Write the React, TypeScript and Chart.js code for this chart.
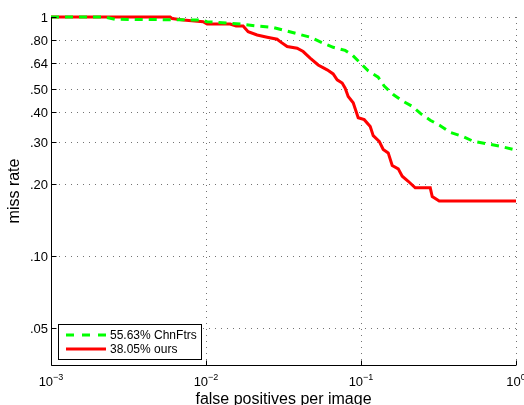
import React, { useEffect, useRef } from "react";
import { Chart, registerables } from "chart.js";

Chart.register(...registerables);

// Miss rate versus false positives per image (FPPI) for the two detectors.
const fppiOurs = [
  0.001, 0.00587, 0.00604, 0.00712, 0.00958, 0.01016, 0.01431, 0.01564, 0.01736,
  0.0187, 0.02137, 0.0248, 0.02877, 0.03009, 0.03339, 0.03873, 0.04234, 0.04699,
  0.05293, 0.06049, 0.06613, 0.07018, 0.0756, 0.07907, 0.08268, 0.08906, 0.09592,
  0.1049, 0.1147, 0.1199, 0.1311, 0.1391, 0.1498, 0.159, 0.1739, 0.1845, 0.2017,
  0.2238, 0.2797, 0.2881, 0.3197, 1.0,
];
const missOurs = [
  1.0, 1.0, 0.986, 0.972, 0.956, 0.935, 0.935, 0.917, 0.917,
  0.868, 0.841, 0.823, 0.807, 0.789, 0.752, 0.74, 0.717, 0.673,
  0.63, 0.601, 0.578, 0.546, 0.529, 0.504, 0.465, 0.438, 0.379,
  0.372, 0.348, 0.319, 0.302, 0.279, 0.27, 0.239, 0.2315, 0.2157, 0.2055,
  0.1929, 0.1929, 0.1774, 0.1697, 0.1697,
];

const fppiChnFtrs = [
  0.001, 0.00223, 0.00259, 0.00916, 0.01016, 0.01736, 0.02137, 0.02671, 0.03241,
  0.03931, 0.04699, 0.05617, 0.06613, 0.07907, 0.08774, 0.09881, 0.1113, 0.1291,
  0.1412, 0.1614, 0.1845, 0.2141, 0.2428, 0.2797, 0.3246, 0.3766, 0.4499, 0.5301,
  0.6478, 0.7918, 0.9607, 1.0,
];
const missChnFtrs = [
  1.0, 1.0, 0.978, 0.972, 0.956, 0.932, 0.917, 0.906, 0.877,
  0.849, 0.823, 0.781, 0.747, 0.725, 0.694, 0.643, 0.595, 0.56,
  0.514, 0.474, 0.446, 0.423, 0.394, 0.37, 0.351, 0.329, 0.317, 0.302,
  0.295, 0.288, 0.279, 0.275,
];

const seriesLabels = ["55.63% ChnFtrs", "38.05% ours"];
const seriesColors = ["#00ff00", "#ff0000"];

const yTicks = [0.05, 0.1, 0.2, 0.3, 0.4, 0.5, 0.64, 0.8, 1];
const yTickLabels = [".05", ".10", ".20", ".30", ".40", ".50", ".64", ".80", "1"];
const xTicks = [0.001, 0.01, 0.1, 1];
const xTickExponents = ["\u22123", "\u22122", "\u22121", "0"];

const FONT = '"Liberation Sans", Arial, Helvetica, sans-serif';

// Dotted grid drawn dot by dot so every dot lands on a whole pixel.
function dottedH(ctx: CanvasRenderingContext2D, x0: number, x1: number, y: number) {
  for (let x = Math.ceil(x0) + 2; x <= x1; x += 6) ctx.fillRect(x, y, 1, 1);
}
function dottedV(ctx: CanvasRenderingContext2D, x: number, y0: number, y1: number) {
  for (let y = Math.ceil(y0); y <= y1 - 2; y += 6) ctx.fillRect(x, y, 1, 1);
}

// Draws MATLAB-style axes: dotted grid, left/bottom axis lines with inward
// ticks, power-of-ten labels, axis titles and a boxed legend.
const matlabAxes = {
  id: "matlabAxes",
  beforeDatasetsDraw(chart: any) {
    const { ctx, chartArea: a, scales } = chart;
    const xs = scales.x;
    const ys = scales.y;
    ctx.save();
    ctx.fillStyle = "rgba(0,0,0,0.55)";
    for (const v of yTicks) {
      const py = Math.round(ys.getPixelForValue(v));
      dottedH(ctx, a.left, a.right, py);
    }
    for (const v of xTicks) {
      if (v === xTicks[0]) continue;
      const px = Math.round(xs.getPixelForValue(v));
      dottedV(ctx, px, a.top, a.bottom);
    }
    ctx.restore();
  },
  afterDatasetsDraw(chart: any) {
    const { ctx, chartArea: a, scales } = chart;
    const xs = scales.x;
    const ys = scales.y;
    const left = Math.round(a.left) + 0.5;
    const bottom = Math.round(a.bottom) + 0.5;
    ctx.save();
    ctx.setLineDash([]);
    ctx.strokeStyle = "#000";
    ctx.lineWidth = 1;
    // axis lines
    ctx.beginPath();
    ctx.moveTo(left, a.top);
    ctx.lineTo(left, bottom);
    ctx.lineTo(a.right, bottom);
    ctx.stroke();
    // inward ticks
    ctx.beginPath();
    for (const v of yTicks) {
      const py = Math.round(ys.getPixelForValue(v)) + 0.5;
      ctx.moveTo(left, py);
      ctx.lineTo(left + 5, py);
    }
    for (const v of xTicks) {
      const px = Math.round(xs.getPixelForValue(v)) + 0.5;
      ctx.moveTo(px, bottom);
      ctx.lineTo(px, bottom - 5);
    }
    ctx.stroke();

    // y tick labels
    ctx.fillStyle = "#000";
    ctx.font = `13px ${FONT}`;
    ctx.textAlign = "right";
    ctx.textBaseline = "middle";
    yTicks.forEach((v, i) => {
      ctx.fillText(yTickLabels[i], a.left - 3, ys.getPixelForValue(v) + 1);
    });

    // x tick labels as 10^n
    ctx.textAlign = "left";
    ctx.textBaseline = "alphabetic";
    xTicks.forEach((v, i) => {
      ctx.font = `13px ${FONT}`;
      const wBase = ctx.measureText("10").width;
      ctx.font = `9px ${FONT}`;
      const wExp = ctx.measureText(xTickExponents[i]).width;
      const px = xs.getPixelForValue(v);
      const x0 = px - (wBase + wExp) / 2;
      ctx.font = `13px ${FONT}`;
      ctx.fillText("10", x0, bottom + 20);
      ctx.font = `9px ${FONT}`;
      ctx.fillText(xTickExponents[i], x0 + wBase, bottom + 14);
    });

    // axis titles
    ctx.font = `16px ${FONT}`;
    ctx.textAlign = "center";
    ctx.textBaseline = "alphabetic";
    ctx.fillText("false positives per image", (a.left + a.right) / 2, bottom + 38.5);
    ctx.save();
    ctx.translate(19.3, (a.top + a.bottom) / 2);
    ctx.rotate(-Math.PI / 2);
    ctx.fillText("miss rate", 0, 0);
    ctx.restore();

    // legend
    const bx = left + 7;
    const by = bottom - 41;
    const bw = 143;
    const bh = 35;
    ctx.fillStyle = "#fff";
    ctx.fillRect(bx, by, bw, bh);
    ctx.strokeStyle = "#000";
    ctx.lineWidth = 1;
    ctx.strokeRect(bx, by, bw, bh);
    const rows = [by + 10.5, by + 24.5];
    chart.data.datasets.forEach((ds: any, i: number) => {
      const ly = rows[i];
      ctx.save();
      ctx.strokeStyle = ds.borderColor;
      ctx.lineWidth = 3;
      ctx.setLineDash(i === 0 ? [8, 8] : []);
      ctx.beginPath();
      ctx.moveTo(bx + 7.5, ly);
      ctx.lineTo(bx + 47.5, ly);
      ctx.stroke();
      ctx.restore();
      ctx.fillStyle = "#000";
      ctx.font = `12px ${FONT}`;
      ctx.textAlign = "left";
      ctx.textBaseline = "middle";
      ctx.fillText(ds.label, bx + 51.5, ly + 0.5);
    });
    ctx.restore();
  },
};

export default function App() {
  const canvasRef = useRef<HTMLCanvasElement | null>(null);

  useEffect(() => {
    const canvas = canvasRef.current;
    if (!canvas) return;
    const chart = new Chart(canvas, {
      type: "line",
      data: {
        datasets: [
          {
            label: seriesLabels[0],
            data: fppiChnFtrs.map((x, i) => ({ x, y: missChnFtrs[i] })),
            borderColor: seriesColors[0],
            borderWidth: 3,
            borderDash: [8, 6],
            pointRadius: 0,
            tension: 0,
            fill: false,
            clip: false as any,
          },
          {
            label: seriesLabels[1],
            data: fppiOurs.map((x, i) => ({ x, y: missOurs[i] })),
            borderColor: seriesColors[1],
            borderWidth: 3,
            pointRadius: 0,
            tension: 0,
            fill: false,
            clip: false as any,
          },
        ],
      },
      options: {
        responsive: false,
        animation: false,
        devicePixelRatio: 1,
        layout: { padding: { left: 51, right: 8, top: 17, bottom: 40 } },
        plugins: {
          legend: { display: false },
          tooltip: { enabled: false },
        },
        scales: {
          x: { type: "logarithmic", min: 0.001, max: 1, display: false },
          y: { type: "logarithmic", min: 0.035, max: 1, display: false },
        },
      },
      plugins: [matlabAxes],
    });
    return () => chart.destroy();
  }, []);

  return (
    <div style={{ position: "absolute", left: 0, top: 0, width: 524, height: 405, background: "#fff" }}>
      <canvas ref={canvasRef} width={524} height={405} style={{ width: 524, height: 405, display: "block" }} />
    </div>
  );
}
